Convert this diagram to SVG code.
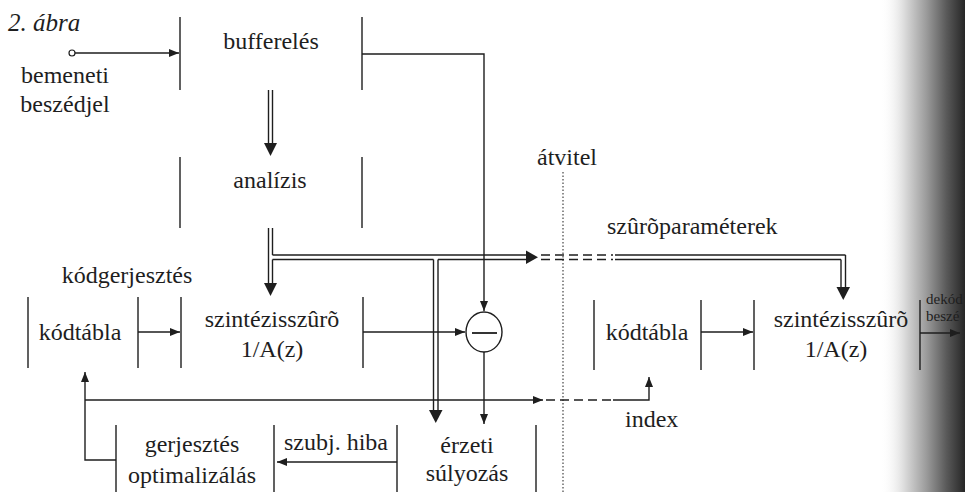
<svg xmlns="http://www.w3.org/2000/svg" width="965" height="492" viewBox="0 0 965 492" font-size="24" font-family="Liberation Serif, serif">
<style>
text{fill:#1e1e1e}
.m{text-anchor:middle}
.bar,.ln{stroke:#1e1e1e;stroke-width:1.4;fill:none}
.dash{stroke:#1e1e1e;stroke-width:1.6;fill:none;stroke-dasharray:9,5}
.dot{stroke:#444;stroke-width:1.2;fill:none;stroke-dasharray:1.5,2}
.head{fill:#1e1e1e;stroke:none}
</style>
<defs>
<marker id="arr" markerUnits="userSpaceOnUse" markerWidth="11" markerHeight="8" refX="10" refY="4" orient="auto">
<path d="M0,0 L10,4 L0,8 z" fill="#1e1e1e"/>
</marker>
<linearGradient id="shade" gradientUnits="userSpaceOnUse" x1="880" y1="0" x2="965" y2="0">
<stop offset="0" stop-color="#ffffff" stop-opacity="0"/>
<stop offset="0.3" stop-color="#d8d8d8"/>
<stop offset="0.55" stop-color="#9a9a9a"/>
<stop offset="0.78" stop-color="#5a5a5a"/>
<stop offset="1" stop-color="#262626"/>
</linearGradient>
</defs>
<rect width="965" height="492" fill="#ffffff"/>
<rect x="880" y="0" width="85" height="492" fill="url(#shade)"/>

<text x="8" y="31" font-style="italic" font-size="25">2. ábra</text>

<g id="input">
<circle cx="72" cy="53" r="3" fill="#fff" stroke="#1e1e1e" stroke-width="1.2"/>
<text class="m" x="65" y="83">bemeneti</text>
<text class="m" x="65" y="112">beszédjel</text>
</g>

<g id="bufferelés">
<line class="bar" x1="180" y1="17" x2="180" y2="90"/>
<line class="bar" x1="362" y1="17" x2="362" y2="90"/>
<text class="m" x="271" y="49">bufferelés</text>
</g>

<g id="analízis">
<line class="bar" x1="180" y1="157" x2="180" y2="228"/>
<line class="bar" x1="362" y1="157" x2="362" y2="228"/>
<text class="m" x="270" y="188">analízis</text>
</g>

<g id="kódgerjesztés">
<text class="m" x="127" y="283">kódgerjesztés</text>
</g>

<g id="kódtábla1">
<line class="bar" x1="28" y1="297" x2="28" y2="368"/>
<line class="bar" x1="138" y1="297" x2="138" y2="368"/>
<text class="m" x="80" y="340">kódtábla</text>
</g>

<g id="szintézisszűrő1">
<line class="bar" x1="181" y1="297" x2="181" y2="368"/>
<line class="bar" x1="363" y1="297" x2="363" y2="368"/>
<text class="m" x="272" y="327">szintézisszûrõ</text>
<text class="m" x="272" y="357">1/A(z)</text>
</g>

<g id="kivonó">
<ellipse cx="484" cy="332" rx="18" ry="20" fill="#fff" stroke="#1e1e1e" stroke-width="1.4"/>
<line class="ln" x1="472" y1="333" x2="497" y2="333" style="stroke-width:1.8"/>
</g>

<g id="gerjesztés-optimalizálás">
<line class="bar" x1="116" y1="425" x2="116" y2="492"/>
<line class="bar" x1="274" y1="425" x2="274" y2="492"/>
<text class="m" x="192" y="452">gerjesztés</text>
<text class="m" x="192" y="483">optimalizálás</text>
</g>

<g id="szubj-hiba">
<line class="bar" x1="397" y1="425" x2="397" y2="492"/>
<text class="m" x="336" y="450">szubj. hiba</text>
</g>

<g id="érzeti-súlyozás">
<line class="bar" x1="536" y1="425" x2="536" y2="492"/>
<text class="m" x="467" y="453">érzeti</text>
<text class="m" x="467" y="481">súlyozás</text>
</g>

<g id="átvitel">
<line class="dot" x1="563" y1="172" x2="563" y2="492"/>
<text x="537" y="165">átvitel</text>
</g>

<g id="kódtábla2">
<line class="bar" x1="594" y1="300" x2="594" y2="370"/>
<line class="bar" x1="701" y1="300" x2="701" y2="370"/>
<text class="m" x="647" y="340">kódtábla</text>
</g>

<g id="szintézisszűrő2">
<line class="bar" x1="754" y1="300" x2="754" y2="370"/>
<line class="bar" x1="920" y1="300" x2="920" y2="370"/>
<text class="m" x="841" y="327">szintézisszûrõ</text>
<text class="m" x="836" y="357">1/A(z)</text>
</g>

<g id="dekódolt-beszéd">
<text x="926" y="304" font-size="15" fill="#111">dekód</text>
<text x="926" y="321" font-size="15" fill="#111">beszé</text>
</g>

<g id="connectors">
<line class="ln" x1="75" y1="53" x2="179" y2="53" marker-end="url(#arr)"/>
<path class="ln" d="M362,54 H484 V311" marker-end="url(#arr)"/>
<line class="ln" x1="268.5" y1="90" x2="268.5" y2="144"/>
<line class="ln" x1="272.5" y1="90" x2="272.5" y2="144"/>
<polygon class="head" points="264,143 277,143 270.5,156"/>
<line class="ln" x1="268.5" y1="228" x2="268.5" y2="284"/>
<line class="ln" x1="272.5" y1="228" x2="272.5" y2="255"/>
<line class="ln" x1="272.5" y1="259.5" x2="272.5" y2="284"/>
<polygon class="head" points="264,283 277,283 270.5,296"/>
<line class="ln" x1="272.5" y1="255" x2="527" y2="255"/>
<line class="ln" x1="272.5" y1="259.5" x2="433.5" y2="259.5"/>
<line class="ln" x1="438" y1="259.5" x2="527" y2="259.5"/>
<polygon class="head" points="526,250.5 526,264 538,257.25"/>
<line class="ln" x1="433.5" y1="259.5" x2="433.5" y2="411"/>
<line class="ln" x1="438" y1="259.5" x2="438" y2="411"/>
<polygon class="head" points="429,410 442.5,410 435.75,423"/>
<line class="dash" x1="541" y1="255" x2="613" y2="255"/>
<line class="dash" x1="541" y1="259.5" x2="613" y2="259.5"/>
<line class="ln" x1="615" y1="255" x2="845.5" y2="255"/>
<line class="ln" x1="615" y1="259.5" x2="841" y2="259.5"/>
<line class="ln" x1="845.5" y1="255" x2="845.5" y2="288"/>
<line class="ln" x1="841" y1="259.5" x2="841" y2="288"/>
<polygon class="head" points="836.5,287 850,287 843.25,300"/>
<text x="607" y="234">szûrõparaméterek</text>
<line class="ln" x1="363" y1="332" x2="465" y2="332" marker-end="url(#arr)"/>
<line class="ln" x1="484" y1="352" x2="484" y2="424" marker-end="url(#arr)"/>
<line class="ln" x1="138" y1="332" x2="180" y2="332" marker-end="url(#arr)"/>
<line class="ln" x1="701" y1="332" x2="753" y2="332" marker-end="url(#arr)"/>
<line class="ln" x1="920" y1="333" x2="960" y2="333" marker-end="url(#arr)"/>
<line class="ln" x1="397" y1="462" x2="277" y2="462" marker-end="url(#arr)"/>
<path class="ln" d="M116,460 H85 V372" marker-end="url(#arr)"/>
<line class="ln" x1="85" y1="400" x2="543" y2="400" marker-end="url(#arr)"/>
<line class="dash" x1="546" y1="400" x2="613" y2="400"/>
<path class="ln" d="M613,400 H649 V377" marker-end="url(#arr)"/>
<text x="625" y="427">index</text>
</g>
</svg>
